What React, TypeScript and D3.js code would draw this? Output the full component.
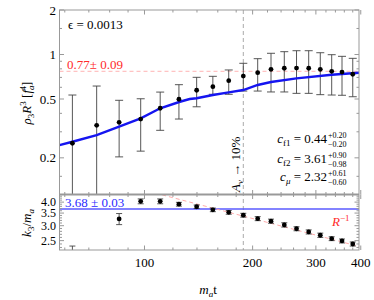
import React from 'react';
import * as d3 from 'd3';

// m_a t for every sample
const tVals = [63, 73.6, 85, 97.6, 110.6, 124.7, 139.7, 155, 171.6, 188.4, 206.6, 225, 245, 265, 286.5, 308.6, 332, 354.7, 380];

// top panel: rho_3 R^3 with asymmetric errors
const rhoVals = [0.251, 0.332, 0.348, 0.366, 0.433, 0.498, 0.573, 0.606, 0.665, 0.715, 0.753, 0.794, 0.807, 0.81, 0.807, 0.794, 0.77, 0.761, 0.735];
const rhoHi = [0.532, 0.612, 0.49, 0.502, 0.557, 0.625, 0.701, 0.712, 0.786, 0.872, 0.937, 1.019, 1.045, 1.061, 1.061, 1.028, 0.997, 0.972, 0.942];
const rhoLo = [0.05, 0.05, 0.203, 0.222, 0.307, 0.366, 0.443, 0.538, 0.538, 0.566, 0.566, 0.558, 0.558, 0.546, 0.546, 0.535, 0.532, 0.53, 0.518];

// fit curve (blue)
const fitT = [58, 63, 73.6, 85, 97.6, 110.6, 125.5, 133.6, 139.7, 155, 171.6, 188.4, 206.6, 225, 265, 332, 395.5];
const fitV = [0.244, 0.257, 0.285, 0.325, 0.37, 0.433, 0.479, 0.5, 0.506, 0.532, 0.555, 0.575, 0.622, 0.652, 0.69, 0.73, 0.753];

// bottom panel: k3/m_a
const k3Vals = [2.0, null, 3.26, 4.04, 4.04, 3.9, 3.78, 3.64, 3.53, 3.41, 3.27, 3.17, 3.03, 2.89, 2.78, 2.67, 2.56, 2.49, 2.4];
const k3Err = [0.34, null, 0.22, 0.12, 0.12, 0.09, 0.08, 0.08, 0.08, 0.08, 0.08, 0.08, 0.08, 0.07, 0.07, 0.07, 0.06, 0.06, 0.06];

const rLineT = [112, 395.5];
const rLineV = [4.37, 2.33];

const plateau = 0.77;
const k3Fit = 3.68;
const avT = 188.4;

const xMajor = [100, 200, 300, 400];
const xMinor = [60, 70, 80, 90, 120, 140, 160, 180, 220, 240, 260, 280, 320, 340, 360, 380];
const topMajor = [0.2, 0.5, 1, 2];
const topMinor = [0.15, 0.3, 0.4, 0.6, 0.7, 0.8, 0.9, 1.5];
const botMajor = [2.5, 3.0, 3.5, 4.0];
const botMinor = [2.3, 2.4, 2.6, 2.7, 2.8, 2.9, 3.1, 3.2, 3.3, 3.4, 3.6, 3.7, 3.8, 3.9, 4.1, 4.2, 4.3];

const fitRows = [
  { sub: 'f1', it: false, val: '0.44', hi: '+0.20', lo: '−0.20' },
  { sub: 'f2', it: false, val: '3.61', hi: '+0.90', lo: '−0.98' },
  { sub: 'μ', it: true, val: '2.32', hi: '+0.61', lo: '−0.60' },
];

const L = 59.5, R = 359, T = 10, M = 194.5, B = 250;
const serif = 'Liberation Serif, Times New Roman, DejaVu Serif, serif';
const axisCol = '#999';

export default function App() {
  const x = d3.scaleLog().domain([58, 395.5]).range([L, R]);
  const yTop = d3.scaleLog().domain([0.113, 2]).range([M, T]);
  const yBot = d3.scaleLog().domain([2.23, 4.39]).range([B, M]);

  const fitLine = d3.line<number>().x((_, i) => x(fitT[i])).y((v) => yTop(v))(fitV) || '';
  const rLine = d3.line<number>().x((_, i) => x(rLineT[i])).y((v) => yBot(v))(rLineV) || '';

  const xTicks = (y0: number, dir: number, key: string) => (
    <g key={key}>
      {xMajor.map((t) => <line key={'M' + t} x1={x(t)} x2={x(t)} y1={y0} y2={y0 + dir * 4.5} stroke={axisCol} />)}
      {xMinor.map((t) => <line key={'m' + t} x1={x(t)} x2={x(t)} y1={y0} y2={y0 + dir * 2.5} stroke={axisCol} />)}
    </g>
  );
  const yTicks = (sc: any, major: number[], minor: number[], key: string) => (
    <g key={key}>
      {major.map((v) => (
        <g key={'M' + v}>
          <line x1={L} x2={L + 4.5} y1={sc(v)} y2={sc(v)} stroke={axisCol} />
          <line x1={R} x2={R - 4.5} y1={sc(v)} y2={sc(v)} stroke={axisCol} />
        </g>
      ))}
      {minor.map((v) => (
        <g key={'m' + v}>
          <line x1={L} x2={L + 2.5} y1={sc(v)} y2={sc(v)} stroke={axisCol} />
          <line x1={R} x2={R - 2.5} y1={sc(v)} y2={sc(v)} stroke={axisCol} />
        </g>
      ))}
    </g>
  );

  return (
    <div style={{ position: 'absolute', left: 0, top: 0 }}>
      <svg width={374} height={300} style={{ display: 'block', background: '#fff', fontFamily: serif }}>
        <defs>
          <clipPath id="cTop"><rect x={L} y={T} width={R - L} height={M - T} /></clipPath>
          <clipPath id="cBot"><rect x={L} y={M} width={R - L} height={B - M} /></clipPath>
        </defs>

        {/* vertical A_v marker */}
        <line x1={x(avT)} x2={x(avT)} y1={T} y2={B} stroke="#aaa" strokeDasharray="4,3" />

        {/* top panel */}
        <g clipPath="url(#cTop)">
          <line x1={L} x2={R} y1={yTop(plateau)} y2={yTop(plateau)} stroke="#ffb3b3" strokeDasharray="4,3" />
          {tVals.map((t, i) => (
            <g key={i} stroke="#444" strokeWidth={0.9}>
              <line x1={x(t)} x2={x(t)} y1={yTop(rhoHi[i])} y2={yTop(rhoLo[i])} />
              <line x1={x(t) - 4} x2={x(t) + 4} y1={yTop(rhoHi[i])} y2={yTop(rhoHi[i])} />
              <line x1={x(t) - 4} x2={x(t) + 4} y1={yTop(rhoLo[i])} y2={yTop(rhoLo[i])} />
            </g>
          ))}
          <path d={fitLine} fill="none" stroke="#1515f0" strokeWidth={2.4} />
          {tVals.map((t, i) => <circle key={i} cx={x(t)} cy={yTop(rhoVals[i])} r={2.4} fill="#000" />)}
        </g>

        {/* bottom panel */}
        <g clipPath="url(#cBot)">
          <line x1={L} x2={R} y1={yBot(k3Fit)} y2={yBot(k3Fit)} stroke="#5a5aff" strokeWidth={1.6} />
          <path d={rLine} fill="none" stroke="#ffaaaa" strokeDasharray="4,3" />
          {tVals.map((t, i) => {
            const v = k3Vals[i];
            const e = k3Err[i];
            if (v === null || e === null) return null;
            return (
              <g key={i}>
                <g stroke="#444" strokeWidth={0.9}>
                  <line x1={x(t)} x2={x(t)} y1={yBot(v + e)} y2={yBot(v - e)} />
                  <line x1={x(t) - 3} x2={x(t) + 3} y1={yBot(v + e)} y2={yBot(v + e)} />
                  <line x1={x(t) - 3} x2={x(t) + 3} y1={yBot(v - e)} y2={yBot(v - e)} />
                </g>
                <circle cx={x(t)} cy={yBot(v)} r={2.4} fill="#000" />
              </g>
            );
          })}
        </g>

        {/* frames and ticks */}
        <rect x={L} y={T} width={R - L} height={B - T} fill="none" stroke={axisCol} />
        <line x1={L} x2={R} y1={M} y2={M} stroke={axisCol} strokeWidth={2} />
        {xTicks(T, 1, 'xt1')}
        {xTicks(M, -1, 'xt2')}
        {xTicks(M, 1, 'xt3')}
        {xTicks(B, -1, 'xt4')}
        {yTicks(yTop, topMajor, topMinor, 'yt')}
        {yTicks(yBot, botMajor, botMinor, 'yb')}

        {/* tick labels */}
        <g fontSize={13} fill="#000">
          {xMajor.map((t) => <text key={t} x={x(t)} y={267} textAnchor="middle">{t}</text>)}
          {topMajor.map((v) => <text key={v} x={56} y={yTop(v) + 4.5} textAnchor="end">{v}</text>)}
        </g>
        <g fontSize={12} fill="#000">
          {botMajor.map((v) => <text key={v} x={56} y={yBot(v) + 4} textAnchor="end">{v.toFixed(1)}</text>)}
        </g>

        {/* axis titles */}
        <text x={208} y={294} textAnchor="middle" fontSize={13}>
          <tspan fontStyle="italic">m</tspan><tspan fontSize={9} dy={3} fontStyle="italic">a</tspan><tspan dy={-3}>t</tspan>
        </text>
        <text transform="translate(31,103) rotate(-90)" textAnchor="middle" fontSize={13}>
          <tspan fontStyle="italic">ρ</tspan><tspan fontSize={9} dy={3}>3</tspan><tspan dy={-3} fontStyle="italic">R</tspan><tspan fontSize={9} dy={-5}>3</tspan><tspan dy={5}> [</tspan><tspan fontStyle="italic">f</tspan><tspan fontSize={9} dy={3} fontStyle="italic">a</tspan><tspan fontSize={9} dy={-8} dx={-5}>4</tspan><tspan dy={5}>]</tspan>
        </text>
        <text transform="translate(31,223) rotate(-90)" textAnchor="middle" fontSize={13}>
          <tspan fontStyle="italic">k</tspan><tspan fontSize={9} dy={3}>3</tspan><tspan dy={-3}>/</tspan><tspan fontStyle="italic">m</tspan><tspan fontSize={9} dy={3} fontStyle="italic">a</tspan>
        </text>

        {/* annotations */}
        <text x={68} y={29} fontSize={13}>ϵ = 0.0013</text>
        <text x={67} y={68.5} fontSize={13} fill="#ff2a2a">0.77± 0.09</text>
        <text x={65} y={207} fontSize={13} fill="#2a2aff">3.68 ± 0.03</text>
        <text x={332} y={226} fontSize={13} fill="#ff2a2a" fontStyle="italic">R<tspan fontSize={9} dy={-5} fontStyle="normal">−1</tspan></text>
        <text transform={`translate(${x(avT) - 3},192) rotate(-90)`} fontSize={13}>
          <tspan fontStyle="italic">A</tspan><tspan fontSize={9} dy={3} fontStyle="italic">v</tspan><tspan dy={-3}> → 10%</tspan>
        </text>

        {fitRows.map((r, i) => {
          const yb = [143, 163, 181][i];
          return (
            <g key={r.sub}>
              <text x={327} y={yb} textAnchor="end" fontSize={13}>
                <tspan fontStyle="italic">c</tspan><tspan fontSize={9} dy={3} fontStyle={r.it ? 'italic' : 'normal'}>{r.sub}</tspan><tspan dy={-3}>{' = ' + r.val}</tspan>
              </text>
              <text x={328} y={yb - 5.5} fontSize={8}>{r.hi}</text>
              <text x={328} y={yb + 3.5} fontSize={8}>{r.lo}</text>
            </g>
          );
        })}
      </svg>
    </div>
  );
}
